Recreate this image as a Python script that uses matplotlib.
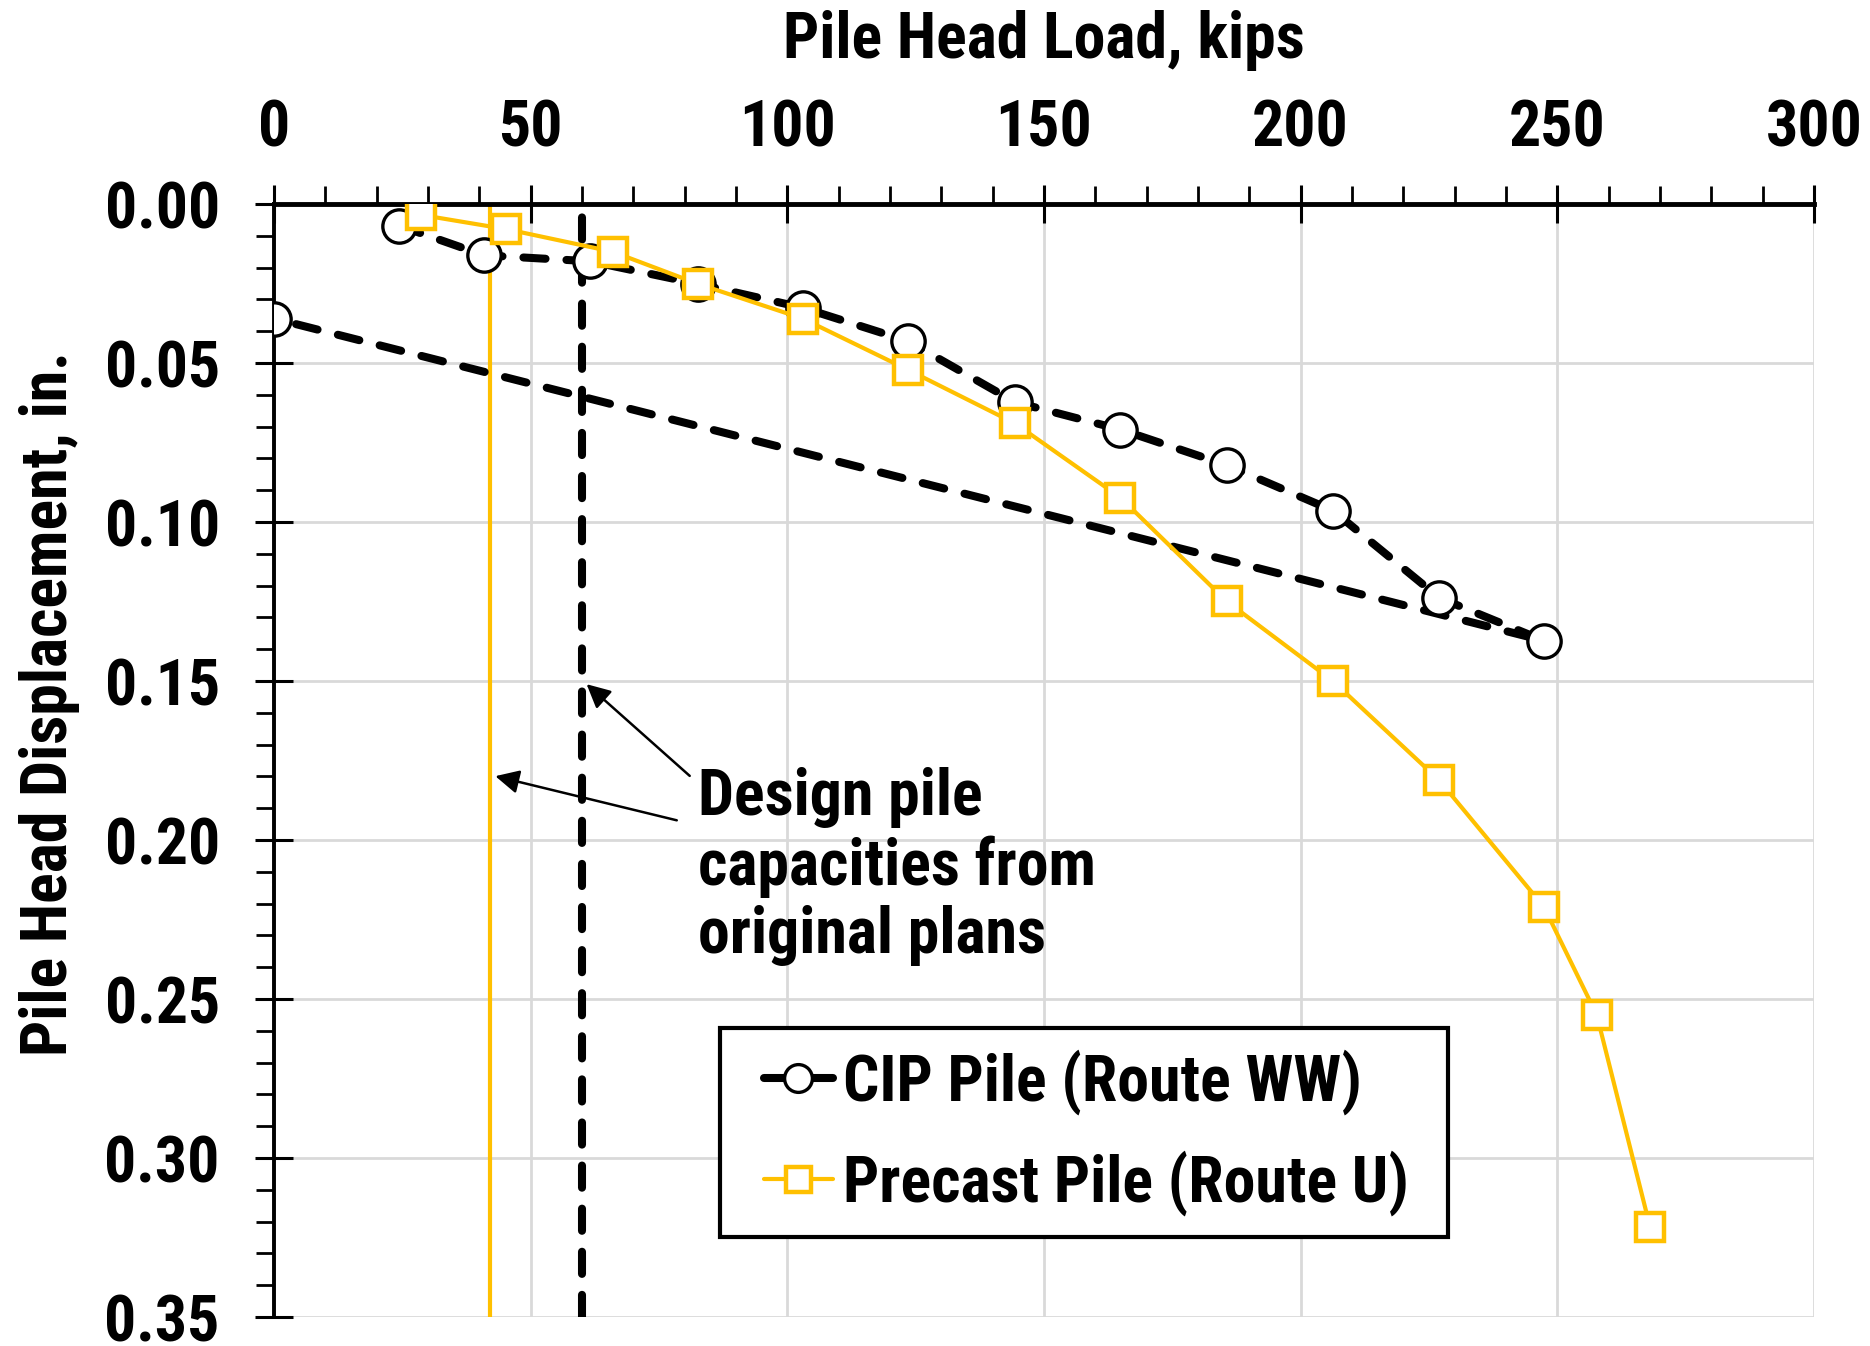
import matplotlib
matplotlib.use("Agg")
import matplotlib.pyplot as plt
from matplotlib import font_manager as fm
from matplotlib.lines import Line2D
from matplotlib.legend_handler import HandlerLine2D
from matplotlib.ticker import MultipleLocator, FormatStrFormatter

# CIP pile (Route WW): loading then unloading back to zero load
cip_load = [24.4, 40.9, 61.6, 82.6, 103.0, 123.5, 144.4, 164.9, 185.6, 206.3, 227.0, 247.4, 0.0]
cip_disp = [0.0068, 0.0161, 0.0180, 0.0251, 0.0326, 0.0431, 0.0623, 0.0709, 0.0821, 0.0964, 0.1238, 0.1373, 0.0360]

# Precast pile (Route U)
pc_load = [28.6, 45.3, 66.0, 82.6, 103.0, 123.5, 144.4, 164.9, 185.6, 206.3, 227.0, 247.4, 257.7, 268.1]
pc_disp = [0.0034, 0.0079, 0.0150, 0.0251, 0.0360, 0.0521, 0.0690, 0.0923, 0.1249, 0.1500, 0.1812, 0.2210, 0.2550, 0.3218]

# design capacities
design_precast = 42
design_cip = 60

labels = ["CIP Pile (Route WW)", "Precast Pile (Route U)"]
note = "Design pile\ncapacities from\noriginal plans"
xlabel = "Pile Head Load, kips"
ylabel = "Pile Head Displacement, in."

# ---- font choice: prefer a narrow / condensed bold sans ----
names = {f.name for f in fm.fontManager.ttflist}
cond = {(f.name) for f in fm.fontManager.ttflist if 'condensed' in str(f.stretch).lower()}
family, stretch, FS = 'Liberation Sans', 'normal', 40
for cand in ['Liberation Sans Narrow', 'Arial Narrow', 'Roboto Condensed', 'Open Sans Condensed',
             'DejaVu Sans Condensed']:
    if cand in names:
        family, FS = cand, 46
        break
else:
    for cand in ['DejaVu Sans', 'Noto Sans', 'Roboto', 'Open Sans']:
        if cand in cond:
            family, stretch, FS = cand, 'condensed', 44
            break

plt.rcParams['font.family'] = [family, 'DejaVu Sans']
plt.rcParams['font.stretch'] = stretch
plt.rcParams['font.weight'] = 'bold'

GOLD = "#FFC000"
DASH = (2.75, 2.6)
LW_D = 5.8

fig = plt.figure(figsize=(18.7, 13.46), dpi=100)
ax = fig.add_axes([0.1465, 0.0215, 0.8235, 0.8269])

ax.set_xlim(0, 300)
ax.set_ylim(0.35, 0.0)

ax.grid(True, which='major', color='#d9d9d9', lw=2.0, zorder=0)

ax.axvline(design_precast, color=GOLD, lw=3.0, zorder=2)
ax.axvline(design_cip, color='black', lw=LW_D, dashes=DASH, dash_capstyle='round', zorder=2)

ax.plot(cip_load, cip_disp, color='black', lw=LW_D, dashes=DASH, dash_capstyle='round',
        marker='o', ms=24, mfc='white', mec='black', mew=2.4, zorder=4)
ax.plot(pc_load, pc_disp, color=GOLD, lw=3.0, marker='s', ms=20, mfc='white', mec=GOLD, mew=3.2,
        zorder=5)

for side in ['right', 'bottom']:
    ax.spines[side].set_visible(False)
ax.spines['top'].set_linewidth(3.5)
ax.spines['left'].set_linewidth(2.8)

ax.xaxis.tick_top()
ax.xaxis.set_label_position('top')
ax.xaxis.set_major_locator(MultipleLocator(50))
ax.xaxis.set_minor_locator(MultipleLocator(10))
ax.yaxis.set_major_locator(MultipleLocator(0.05))
ax.yaxis.set_minor_locator(MultipleLocator(0.01))
ax.yaxis.set_major_formatter(FormatStrFormatter('%.2f'))

ax.tick_params(axis='both', which='major', direction='inout', length=28, width=2.2, labelsize=FS)
ax.tick_params(axis='both', which='minor', direction='out', length=13, width=2.0)
ax.tick_params(axis='x', which='both', top=True, bottom=False, pad=18)
ax.tick_params(axis='y', which='both', left=True, right=False, pad=25)

ax.set_xlabel(xlabel, fontsize=FS, fontweight='bold', labelpad=29)
ax.set_ylabel(ylabel, fontsize=FS, fontweight='bold')
ax.yaxis.set_label_coords(-0.126, 0.551)

ax.text(82.6, 0.177, note, fontsize=FS, fontweight='bold', va='top', ha='left',
        linespacing=1.15, zorder=6)
ax.annotate("", xy=(60.5, 0.1504), xytext=(81.4, 0.1804),
            arrowprops=dict(arrowstyle='-|>', color='black', lw=1.8, mutation_scale=36), zorder=6)
ax.annotate("", xy=(42.6, 0.1797), xytext=(79.0, 0.194),
            arrowprops=dict(arrowstyle='-|>', color='black', lw=1.8, mutation_scale=36), zorder=6)

h_cip = Line2D([], [], color='black', lw=LW_D, solid_capstyle='round', marker='o', ms=20,
               mfc='white', mec='black', mew=2.4)
h_pc = Line2D([], [], color=GOLD, lw=3.0, solid_capstyle='round', marker='s', ms=18,
              mfc='white', mec=GOLD, mew=3.2)
hm = {h_cip: HandlerLine2D(xpad=0.36), h_pc: HandlerLine2D(xpad=0.36)}
leg = ax.legend([h_cip, h_pc], labels, handler_map=hm,
                loc='upper left', bbox_to_anchor=(0.2897, 0.073, 0.4725, 0.1866), mode='expand',
                fontsize=FS, frameon=True, fancybox=False, framealpha=1, edgecolor='black',
                handlelength=1.43, handletextpad=0.17, borderpad=0.33, labelspacing=0.55,
                borderaxespad=0)
leg.get_frame().set_linewidth(3.0)

fig.savefig("out.png", dpi=100)
